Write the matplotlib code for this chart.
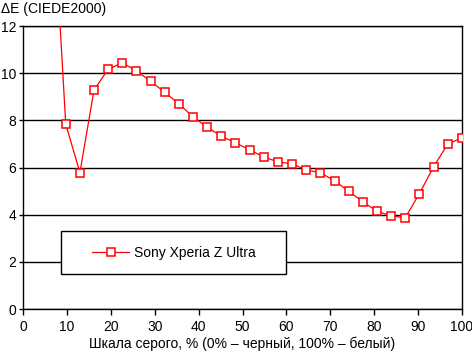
import numpy as np
import matplotlib.pyplot as plt
from matplotlib.patches import Rectangle

plt.rcParams['font.family'] = ['Liberation Sans', 'DejaVu Sans']

# grey levels: 32 steps from 0 to 100 %, plotted from step 2 onward
steps = np.arange(2, 32)
gray_pct = steps / 31 * 100
delta_e = [18.3, 7.84, 5.79, 9.29, 10.17, 10.44, 10.10, 9.66, 9.19, 8.70,
           8.15, 7.71, 7.33, 7.05, 6.75, 6.45, 6.24, 6.16, 5.90, 5.78,
           5.44, 5.00, 4.55, 4.15, 3.95, 3.87, 4.89, 6.03, 6.99, 7.26]
series_name = "Sony Xperia Z Ultra"
x_ticks = [0, 10, 20, 30, 40, 50, 60, 70, 80, 90, 100]
y_ticks = [0, 2, 4, 6, 8, 10, 12]

FONT_SIZE = 10
fig = plt.figure(figsize=(4.72, 3.52), dpi=100)
ax = fig.add_axes([0.0494, 0.122, 0.929, 0.804])

ax.plot(gray_pct, delta_e, color='red', lw=0.9, marker='s', markersize=6,
        markerfacecolor='white', markeredgecolor='red', markeredgewidth=1.1,
        label=series_name, zorder=4)

ax.set_xlim(0, 100)
ax.set_ylim(0, 12)
ax.set_xticks(x_ticks)
ax.set_yticks(y_ticks)
ax.yaxis.grid(True, color='black', lw=1)
ax.set_axisbelow(True)
for s in ax.spines.values():
    s.set_color('black')
    s.set_linewidth(1)
ax.tick_params(axis='x', direction='out', length=4, width=1, labelsize=FONT_SIZE, pad=4)
ax.tick_params(axis='y', direction='out', length=3, width=1, labelsize=FONT_SIZE, pad=2)
ax.set_xlabel("Шкала серого, % (0% – черный, 100% – белый)", fontsize=FONT_SIZE, labelpad=2)
fig.text(0.002, 0.975, "ΔE (CIEDE2000)", fontsize=FONT_SIZE, ha='left', va='center')

ax.add_patch(Rectangle((0.087, 0.124), 0.513, 0.151, transform=ax.transAxes,
                       facecolor='white', edgecolor='black', lw=1, zorder=5))
leg = ax.legend(loc='center', bbox_to_anchor=(0.344, 0.199), frameon=False,
                fontsize=FONT_SIZE, handlelength=2.6, handletextpad=0.4)
leg.set_zorder(6)

fig.savefig("out.png", dpi=100)
